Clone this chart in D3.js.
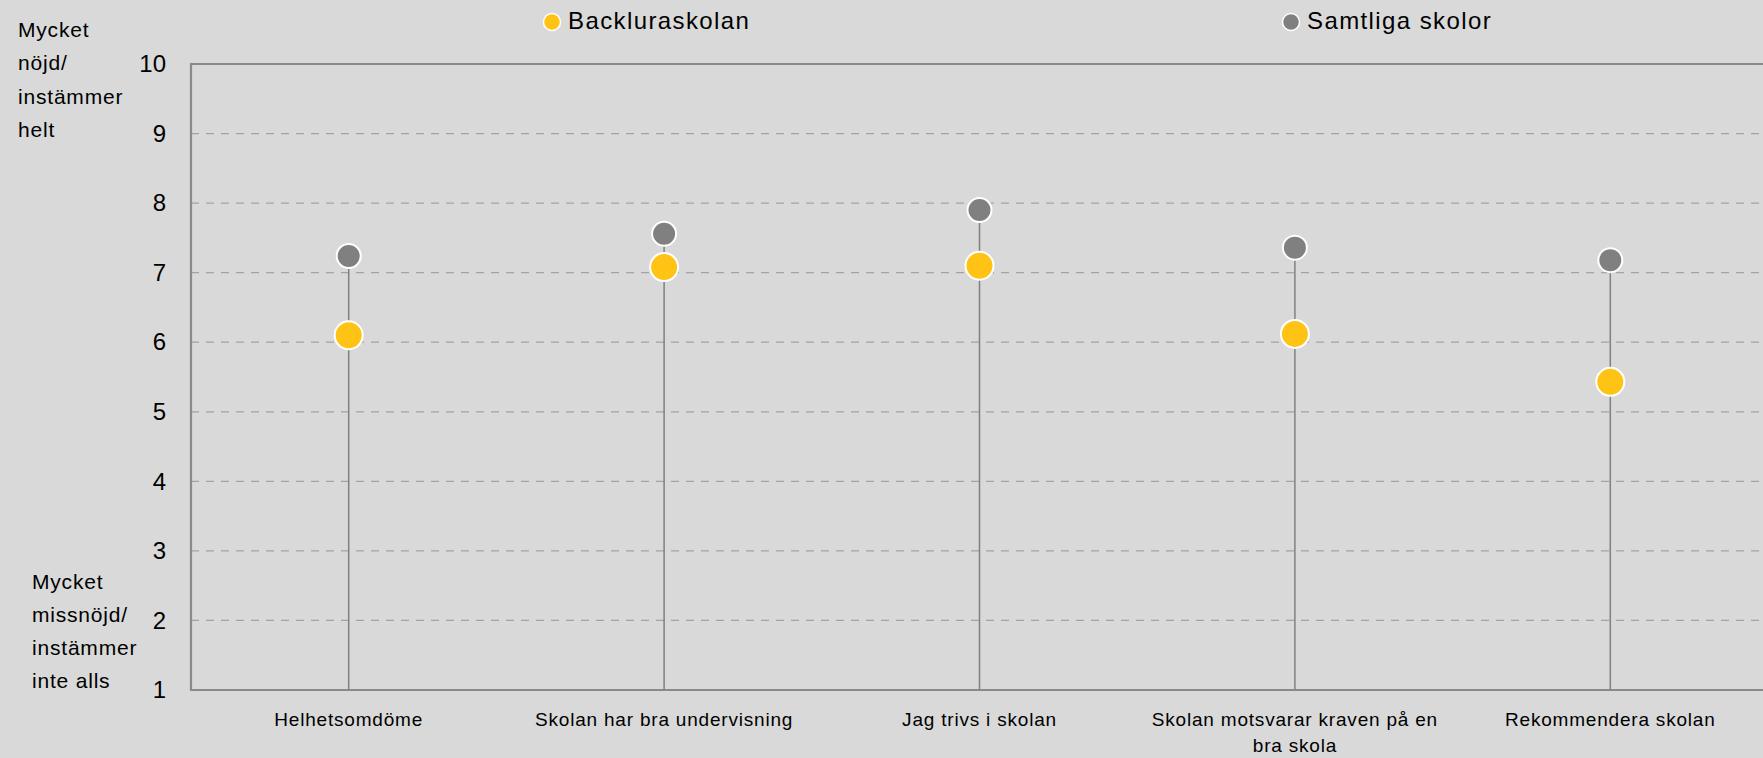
<!DOCTYPE html>
<html>
<head>
	<meta charset="UTF-8">
	<title>Backluraskolan</title>
	<script src="https://cdn.jsdelivr.net/npm/d3@7"></script>
	<style>
		html, body {
			margin: 0;
			padding: 0;
			background: #d9d9d9;
		}
		svg text {
			font-family: "Liberation Sans", Arial, Helvetica, sans-serif;
			fill: #000;
		}
	</style>
</head>
<body>
<svg id="chart" width="1763" height="758"></svg>
<script>
	// data
	var categories = ["Helhetsomdöme", "Skolan har bra undervisning", "Jag trivs i skolan",
		"Skolan motsvarar kraven på en bra skola", "Rekommendera skolan"];
	var skolan = [6.10, 7.08, 7.10, 6.12, 5.43];
	var samtliga = [7.24, 7.56, 7.90, 7.36, 7.18];
	var seriesNames = ["Backluraskolan", "Samtliga skolor"];
	var yTicks = [1, 2, 3, 4, 5, 6, 7, 8, 9, 10];
	var topNote = ["Mycket", "nöjd/", "instämmer", "helt"];
	var bottomNote = ["Mycket", "missnöjd/", "instämmer", "inte alls"];

	var yellow = "#ffc316", grey = "#808080";

	var svg = d3.select("#chart");
	// plot area (note: "top" is reserved on window, so use a margin object)
	var plot = { left: 191, right: 1768, top: 64, bottom: 690 };

	var x = d3.scaleBand().domain(categories).range([plot.left, plot.right]);
	var y = d3.scaleLinear().domain([1, 10]).range([plot.bottom, plot.top]);
	var cx = function(c) { return x(c) + x.bandwidth() / 2; };

	// dashed gridlines
	svg.append("g")
		.selectAll("line")
		.data(yTicks.filter(function(t) { return t > 1 && t < 10; }))
		.join("line")
		.attr("x1", plot.left).attr("x2", plot.right)
		.attr("y1", function(d) { return y(d); })
		.attr("y2", function(d) { return y(d); })
		.attr("stroke", "#a3a3a3")
		.attr("stroke-width", 1.3)
		.attr("stroke-dasharray", "8,7");

	// plot border (top, left, bottom)
	svg.append("path")
		.attr("d", "M" + plot.right + "," + y(10) + "H" + plot.left + "V" + y(1) + "H" + plot.right)
		.attr("fill", "none")
		.attr("stroke", "#8a8a8a")
		.attr("stroke-width", 2.2);

	// y tick labels
	var yAxis = svg.append("g")
		.attr("transform", "translate(" + plot.left + ",0)")
		.call(d3.axisLeft(y).tickValues(yTicks).tickSize(0).tickPadding(25).tickFormat(d3.format("d")));
	yAxis.select(".domain").remove();
	yAxis.selectAll("text")
		.attr("font-size", "24px")
		.attr("font-family", null)
		.attr("fill", "#000");

	// x labels, wrapped
	var xAxis = svg.append("g")
		.attr("transform", "translate(0," + plot.bottom + ")")
		.call(d3.axisBottom(x).tickSize(0).tickPadding(0));
	xAxis.select(".domain").remove();
	xAxis.selectAll("text")
		.attr("font-size", "19px")
		.attr("font-family", null)
		.attr("fill", "#000")
		.style("letter-spacing", "0.8px")
		.attr("y", 36)
		.attr("dy", 0)
		.each(function() { wrap(d3.select(this), 300); });

	function wrap(text, width) {
		var words = text.text().split(/\s+/), line = [], lineNo = 0;
		var tspan = text.text(null).append("tspan").attr("x", 0).attr("y", 36);
		words.forEach(function(w) {
			line.push(w);
			tspan.text(line.join(" "));
			if (tspan.node().getComputedTextLength() > width && line.length > 1) {
				line.pop();
				tspan.text(line.join(" "));
				line = [w];
				lineNo++;
				tspan = text.append("tspan").attr("x", 0).attr("y", 36 + lineNo * 26).text(w);
			}
		});
	}

	// stems
	svg.append("g")
		.selectAll("line")
		.data(categories)
		.join("line")
		.attr("x1", cx).attr("x2", cx)
		.attr("y1", function(d, i) { return y(Math.max(skolan[i], samtliga[i])); })
		.attr("y2", y(1))
		.attr("stroke", grey)
		.attr("stroke-width", 1.5);

	// dots
	svg.append("g")
		.selectAll("circle")
		.data(categories)
		.join("circle")
		.attr("cx", cx)
		.attr("cy", function(d, i) { return y(samtliga[i]); })
		.attr("r", 12)
		.attr("fill", grey)
		.attr("stroke", "#fff")
		.attr("stroke-width", 2);

	svg.append("g")
		.selectAll("circle")
		.data(categories)
		.join("circle")
		.attr("cx", cx)
		.attr("cy", function(d, i) { return y(skolan[i]); })
		.attr("r", 14)
		.attr("fill", yellow)
		.attr("stroke", "#fff")
		.attr("stroke-width", 2);

	// legend
	var legendX = [552, 1291];
	var legend = svg.append("g")
		.selectAll("g")
		.data(seriesNames)
		.join("g")
		.attr("transform", function(d, i) { return "translate(" + legendX[i] + ",22)"; });
	legend.append("circle")
		.attr("r", 8.5)
		.attr("fill", function(d, i) { return i === 0 ? yellow : grey; })
		.attr("stroke", "#fff")
		.attr("stroke-width", 1.5);
	legend.append("text")
		.attr("x", 16)
		.attr("y", 6.5)
		.attr("font-size", "24px")
		.style("letter-spacing", "1.4px")
		.text(function(d) { return d; });

	// scale end notes
	svg.append("g")
		.selectAll("text")
		.data(topNote)
		.join("text")
		.attr("x", 18)
		.attr("y", function(d, i) { return 37 + i * 33.3; })
		.attr("font-size", "21px")
		.style("letter-spacing", "0.8px")
		.text(function(d) { return d; });

	svg.append("g")
		.selectAll("text")
		.data(bottomNote)
		.join("text")
		.attr("x", 32)
		.attr("y", function(d, i) { return 589 + i * 33; })
		.attr("font-size", "21px")
		.style("letter-spacing", "0.8px")
		.text(function(d) { return d; });
</script>
</body>
</html>
